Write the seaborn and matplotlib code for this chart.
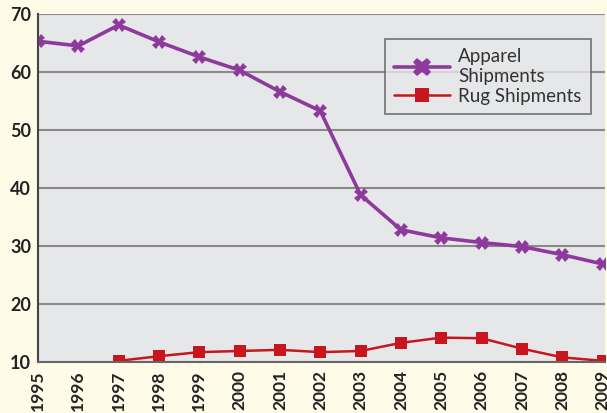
import numpy as np
import pandas as pd
import matplotlib
matplotlib.use('Agg')
import matplotlib.pyplot as plt
import seaborn as sns

# ── data ─────────────────────────────────────────────────────────
years = list(range(1995, 2010))
apparel = [65.3, 64.5, 68.1, 65.2, 62.6, 60.3, 56.6, 53.3, 38.8, 32.8,
           31.4, 30.6, 29.9, 28.5, 26.9]
rug = [np.nan, np.nan, 10.2, 11.0, 11.7, 11.9, 12.1, 11.7, 11.9, 13.3,
       14.2, 14.1, 12.3, 10.8, 10.2]

df = pd.DataFrame({'year': years, 'Apparel\nShipments': apparel,
                   'Rug Shipments': rug})
long = df.melt(id_vars='year', var_name='series', value_name='value')

sns.set_style('white')
plt.rcParams['font.family'] = ['Lato', 'DejaVu Sans']

fig = plt.figure(figsize=(6.07, 4.13), dpi=100)
fig.patch.set_facecolor('#fefbe8')
ax = fig.add_axes([38 / 607, 1 - 362 / 413, 1 - 38 / 607 - 0.004, 348 / 413])
ax.set_facecolor('#e6e7e9')

purple = '#8e3a9d'
red = '#c8161e'

sns.lineplot(data=long[long['series'] == 'Apparel\nShipments'], x='year', y='value',
             color=purple, lw=2.6, marker='X', markersize=10,
             markeredgewidth=0, label='Apparel\nShipments', ax=ax)
sns.lineplot(data=long[long['series'] == 'Rug Shipments'], x='year', y='value',
             color=red, lw=1.8, marker='s', markersize=8,
             markeredgewidth=0, label='Rug Shipments', ax=ax)

ax.set_xlim(1995, 2009.05)
ax.set_ylim(10, 70)
ax.set_yticks(range(10, 71, 10))
ax.set_xticks(years)
ax.set_xticklabels([str(y) for y in years], rotation=90, fontsize=12.5,
                   fontweight='bold', color='#222222')
ax.set_yticklabels([str(v) for v in range(10, 71, 10)], fontsize=13,
                   fontweight='bold', color='#222222')
ax.set_xlabel('')
ax.set_ylabel('')

ax.grid(axis='y', color='#8a8a8a', lw=1.5)
ax.set_axisbelow(True)
for s in ['top', 'right']:
    ax.spines[s].set_visible(False)
ax.spines['left'].set_color('#444444')
ax.spines['left'].set_linewidth(1.5)
ax.spines['bottom'].set_color('#666666')
ax.spines['bottom'].set_linewidth(1.5)
ax.tick_params(axis='x', direction='out', length=4, color='#444444', pad=2)
ax.tick_params(axis='y', length=4, color='#444444', direction='out', pad=1)

leg = ax.legend(loc='upper right', bbox_to_anchor=(0.992, 0.955), fontsize=13.5,
                frameon=True, fancybox=False, facecolor='#e6e7e9',
                edgecolor='#555555', handlelength=3.0, borderpad=0.5,
                labelspacing=0.15, handletextpad=0.4, markerscale=1.3)
leg.get_frame().set_linewidth(1.2)
for t in leg.get_texts():
    t.set_color('#333333')

fig.savefig('out.png', dpi=100, facecolor=fig.get_facecolor())
